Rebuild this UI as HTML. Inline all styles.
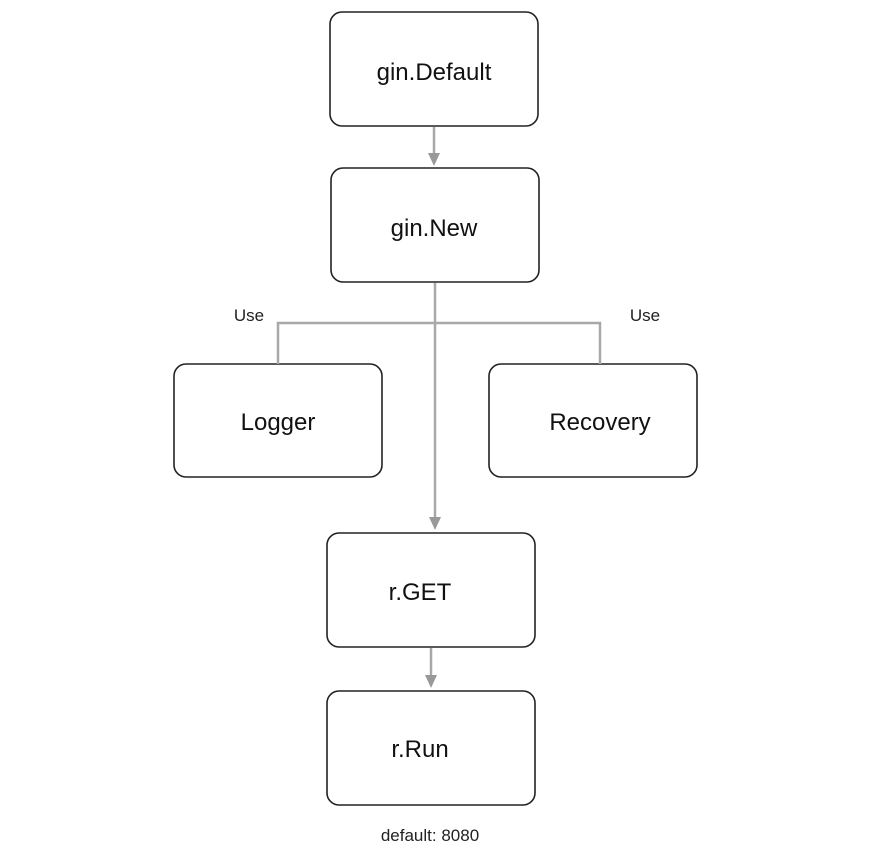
<!DOCTYPE html>
<html><head><style>
body{margin:0;background:#fff;}
svg{display:block;font-family:"Liberation Sans",Arial,sans-serif;}
</style></head><body>
<svg width="880" height="859" viewBox="0 0 880 859">
<g fill="#fff" stroke="#222" stroke-width="1.6">
<rect x="330" y="12" width="208" height="114" rx="12"/>
<rect x="331" y="168" width="208" height="114" rx="12"/>
<rect x="174" y="364" width="208" height="113" rx="12"/>
<rect x="489" y="364" width="208" height="113" rx="12"/>
<rect x="327" y="533" width="208" height="114" rx="12"/>
<rect x="327" y="691" width="208" height="114" rx="12"/>
</g>
<g stroke="#a8a8a8" stroke-width="2.5" fill="none">
<line x1="434" y1="127" x2="434" y2="156"/>
<line x1="435" y1="283" x2="435" y2="520"/>
<line x1="431" y1="648" x2="431" y2="678"/>
<polyline points="278,364 278,323 600,323 600,364"/>
</g>
<g fill="#999">
<path d="M428,153 L440,153 L434,166 Z"/>
<path d="M429,517 L441,517 L435,530 Z"/>
<path d="M425,675 L437,675 L431,688 Z"/>
</g>
<g font-size="24" fill="#111" text-anchor="middle">
<text x="434" y="80">gin.Default</text>
<text x="434" y="236">gin.New</text>
<text x="278" y="430">Logger</text>
<text x="600" y="430">Recovery</text>
<text x="420" y="600">r.GET</text>
<text x="420" y="757">r.Run</text>
</g>
<g font-size="17" fill="#222" text-anchor="middle">
<text x="249" y="321">Use</text>
<text x="645" y="321">Use</text>
<text x="430" y="841">default: 8080</text>
</g>
</svg>
</body></html>
